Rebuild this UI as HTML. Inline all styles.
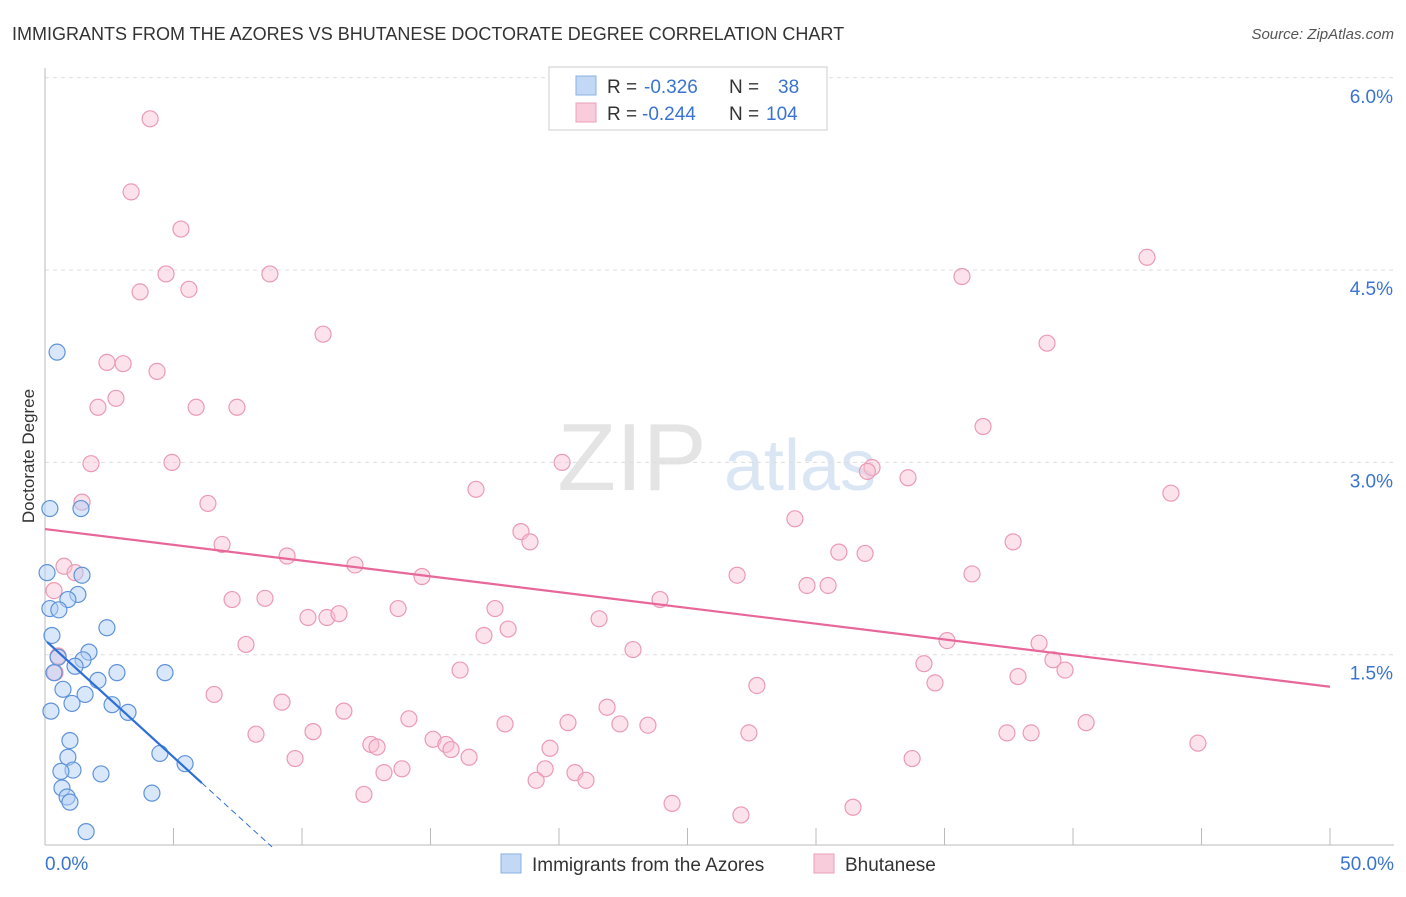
<!DOCTYPE html>
<html><head><meta charset="utf-8"><style>
body{margin:0;background:#fff;font-family:"Liberation Sans",sans-serif}
svg text{font-family:"Liberation Sans",sans-serif}
</style></head><body>
<svg id="chart" width="1406" height="892" xmlns="http://www.w3.org/2000/svg">
<text x="12" y="40" font-size="18" fill="#333">IMMIGRANTS FROM THE AZORES VS BHUTANESE DOCTORATE DEGREE CORRELATION CHART</text>
<text x="1394" y="39" font-size="15" fill="#555" text-anchor="end" font-style="italic">Source: ZipAtlas.com</text>
<text x="34" y="456" font-size="17" fill="#333" text-anchor="middle" transform="rotate(-90 34 456)">Doctorate Degree</text>
<g><text x="632" y="490" font-size="96" fill="#e4e4e4" text-anchor="middle" font-family="Liberation Serif">ZIP</text><text x="800" y="490" font-size="72" fill="#dbe6f5" text-anchor="middle">atlas</text></g>
<g id="grid"></g><g id="axes"></g><g id="pts"></g><g id="trends"></g>
<g>
<rect x="549" y="67" width="278" height="63" fill="#fff" stroke="#ccc"/>
<rect x="576" y="76" width="20" height="19" fill="#c2d8f5" stroke="#8ab0e2"/>
<text y="93" font-size="19" fill="#333"><tspan x="607">R =</tspan><tspan x="644" fill="#3a74d0">-0.326</tspan><tspan x="729">N =</tspan><tspan x="778" fill="#3a74d0">38</tspan></text>
<rect x="576" y="103" width="20" height="19" fill="#f9ccdb" stroke="#eba0b8"/>
<text y="120" font-size="19" fill="#333"><tspan x="607">R =</tspan><tspan x="642" fill="#3a74d0">-0.244</tspan><tspan x="729">N =</tspan><tspan x="766" fill="#3a74d0">104</tspan></text>
</g>
<g>
<rect x="501" y="854" width="20" height="19" fill="#c2d8f5" stroke="#8ab0e2"/>
<text x="532" y="871" font-size="19" fill="#333">Immigrants from the Azores</text>
<rect x="814" y="854" width="20" height="19" fill="#f9ccdb" stroke="#eba0b8"/>
<text x="845" y="871" font-size="19" fill="#333">Bhutanese</text>
</g>
</svg>
<script>
const xTicks=[0,5,10,15,20,25,30,35,40,45,50];
const yTicks=[1.5,3.0,4.5,6.0];
const blueX=[0.47,0.19,1.4,0.08,1.44,1.28,0.89,0.19,0.54,2.41,0.27,1.71,0.51,1.48,1.17,0.35,2.8,4.67,2.06,0.7,1.56,1.05,2.61,0.23,3.23,0.97,0.89,4.47,5.45,1.09,0.62,2.18,0.66,0.86,0.97,4.16,1.6];
const blueY=[3.86,2.64,2.64,2.14,2.12,1.97,1.93,1.86,1.85,1.71,1.65,1.52,1.48,1.46,1.41,1.36,1.36,1.36,1.3,1.23,1.19,1.12,1.11,1.06,1.05,0.83,0.7,0.73,0.65,0.6,0.59,0.57,0.46,0.39,0.35,0.42,0.12];
const pinkX=[4.09,3.35,5.29,4.71,8.75,3.7,5.6,10.82,2.41,3.04,4.36,2.76,2.06,5.88,7.47,1.79,4.94,1.44,6.34,6.89,9.42,12.06,0.74,1.17,0.35,7.28,8.56,10.23,10.97,11.44,13.74,14.67,16.77,18.52,18.87,20.12,17.51,18.02,17.08,21.56,22.88,23.93,26.93,29.18,29.65,30.47,30.89,31.91,32.18,32.0,33.58,35.68,42.88,38.99,36.5,43.81,37.67,36.07,35.1,38.68,39.22,39.69,37.86,34.2,34.63,27.7,16.15,7.82,6.58,9.22,11.63,14.16,17.9,20.35,21.87,22.37,23.46,40.51,37.43,38.37,27.39,8.21,10.43,12.68,12.92,15.1,15.6,15.8,16.5,19.65,9.73,13.19,13.89,19.46,20.62,21.05,19.11,12.41,24.4,27.08,31.44,33.74,44.86,0.51,0.39];
const pinkY=[5.68,5.11,4.82,4.47,4.47,4.33,4.35,4.0,3.78,3.77,3.71,3.5,3.43,3.43,3.43,2.99,3.0,2.69,2.68,2.36,2.27,2.2,2.19,2.14,2.0,1.93,1.94,1.79,1.79,1.82,1.86,2.11,2.79,2.46,2.38,3.0,1.86,1.7,1.65,1.78,1.54,1.93,2.12,2.56,2.04,2.04,2.3,2.29,2.96,2.93,2.88,4.45,4.6,3.93,3.28,2.76,2.38,2.13,1.61,1.59,1.46,1.38,1.33,1.43,1.28,1.26,1.38,1.58,1.19,1.13,1.06,1.0,0.96,0.97,1.09,0.96,0.95,0.97,0.89,0.89,0.89,0.88,0.9,0.8,0.78,0.84,0.8,0.76,0.7,0.77,0.69,0.58,0.61,0.61,0.58,0.52,0.52,0.41,0.34,0.25,0.31,0.69,0.81,1.49,1.36];
const blueTrend=[0.08,1.6,6.1,0.5];
const pinkTrend=[0,2.48,50,1.25];
const X=v=>45+v*25.7, Y=v=>847-v*128.2;
const NS="http://www.w3.org/2000/svg";
function mk(p,t,a){const e=document.createElementNS(NS,t);for(const k in a)e.setAttribute(k,a[k]);p.appendChild(e);return e;}
const grid=document.getElementById('grid'),axes=document.getElementById('axes'),pts=document.getElementById('pts'),tr=document.getElementById('trends');
yTicks.forEach(t=>{const l=mk(grid,'line',{x1:45,x2:1394,y1:Y(t),y2:Y(t),stroke:'#ddd','stroke-dasharray':'4 4'});


const tx=mk(axes,'text',{x:1393,y:Y(t)+25,'font-size':19,fill:'#3a74d0','text-anchor':'end'});tx.textContent=t.toFixed(1)+'%';

});
const ax=mk(axes,'line',{x1:45,x2:1394,y1:845,y2:845,stroke:'#bbb'});


const ay=mk(axes,'line',{x1:45,x2:45,y1:68,y2:845,stroke:'#bbb'});


xTicks.forEach(t=>{const l=mk(axes,'line',{x1:X(t),x2:X(t),y1:828,y2:845,stroke:'#bbb'});

});
[[0,'start',45],[50,'end',1394]].forEach(([v,a,x])=>{const tx=mk(axes,'text',{x:x,y:870,'font-size':19,fill:'#3a74d0','text-anchor':a});tx.textContent=v.toFixed(1)+'%';

});
pinkX.forEach((x,i)=>{const c=mk(pts,'circle',{cx:X(x),cy:Y(pinkY[i]),r:8,fill:'rgba(248,190,210,0.45)',stroke:'#eb9ab5','stroke-width':1.2});

});
blueX.forEach((x,i)=>{const c=mk(pts,'circle',{cx:X(x),cy:Y(blueY[i]),r:8,fill:'rgba(180,208,245,0.5)',stroke:'#5f93d8','stroke-width':1.2});

});
let p=mk(tr,'line',{x1:X(pinkTrend[0]),y1:Y(pinkTrend[1]),x2:X(pinkTrend[2]),y2:Y(pinkTrend[3]),stroke:'#e8679a','stroke-width':2.2});


const sl=(blueTrend[3]-blueTrend[1])/(blueTrend[2]-blueTrend[0]);
let b=mk(tr,'line',{x1:X(blueTrend[0]),y1:Y(blueTrend[1]),x2:X(blueTrend[2]),y2:Y(blueTrend[3]),stroke:'#2e6fd6','stroke-width':2.2});


const xe=blueTrend[0]-blueTrend[1]/sl;
let bd=mk(tr,'line',{x1:X(blueTrend[2]),y1:Y(blueTrend[3]),x2:X(xe),y2:Y(0),stroke:'#2e6fd6','stroke-width':1,'stroke-dasharray':'6 4'});


</script>
</body></html>
